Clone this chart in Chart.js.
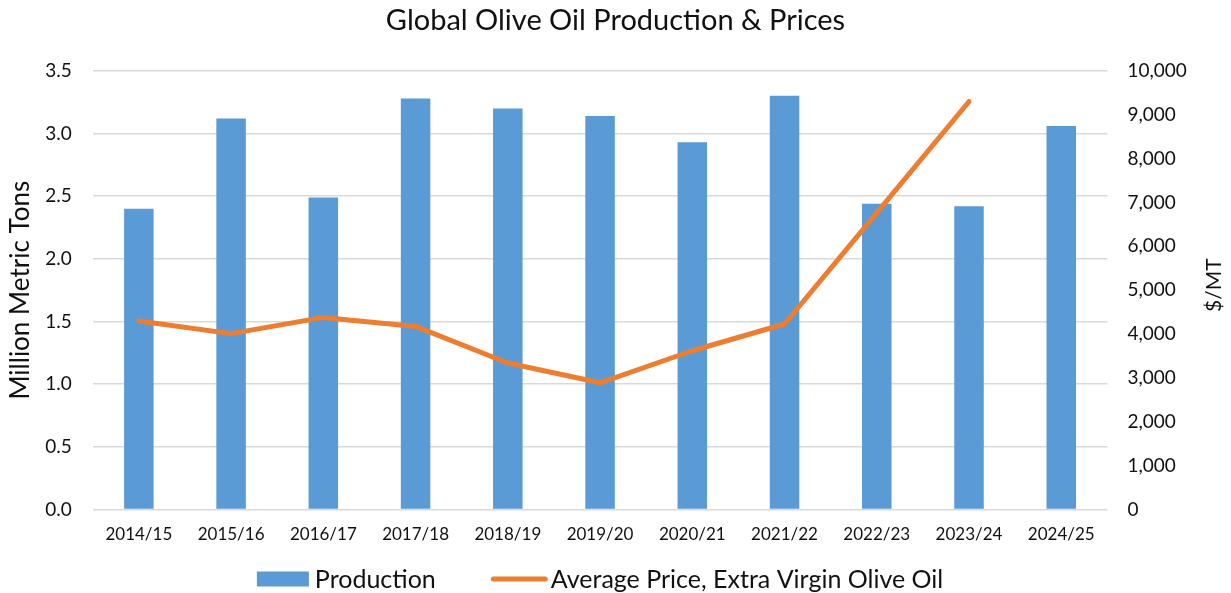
<!DOCTYPE html>
<html>
<head>
<meta charset="utf-8">
<script src="https://cdn.jsdelivr.net/npm/chart.js@4/dist/chart.umd.min.js"></script>
<style>
  html, body { margin: 0; padding: 0; background: #fff; }
  #wrap { width: 1231px; height: 593px; }
</style>
</head>
<body>
<div id="wrap"><canvas id="chart-area"></canvas></div>
<script>
var seasons = ["2014/15", "2015/16", "2016/17", "2017/18", "2018/19", "2019/20",
  "2020/21", "2021/22", "2022/23", "2023/24", "2024/25"];
// million metric tons
var production = [2.40, 3.12, 2.49, 3.28, 3.20, 3.14, 2.93, 3.30, 2.44, 2.42, 3.06];
// $/MT, no price yet for 2024/25
var avgPrice = [4300, 4010, 4380, 4175, 3340, 2890, 3620, 4230, 6760, 9300, null];

var barColor = "#5B9BD5";
var lineColor = "#ED7D31";
var textColor = "#111";
var fontFam = "Lato, 'Open Sans', sans-serif";

// right axis title reads bottom-to-top like the left one
var rightTitle = {
  id: "rightTitle",
  afterDraw: function (chart) {
    var s = chart.scales.y1;
    var ctx = chart.ctx;
    ctx.save();
    ctx.translate(s.right - 15, (s.top + s.bottom) / 2 - 5);
    ctx.rotate(-Math.PI / 2);
    ctx.font = "21px " + fontFam;
    ctx.fillStyle = textColor;
    ctx.textAlign = "center";
    ctx.textBaseline = "middle";
    ctx.fillText("$/MT", 0, 0);
    ctx.restore();
  },
};

// excel style legend under the axis
var bottomLegend = {
  id: "bottomLegend",
  afterDraw: function (chart) {
    var ctx = chart.ctx;
    var area = chart.chartArea;
    var bars = chart.data.datasets[1];
    var line = chart.data.datasets[0];
    ctx.save();
    ctx.font = "25px " + fontFam;
    var w1 = ctx.measureText(bars.label).width;
    var w2 = ctx.measureText(line.label).width;
    var total = 52 + 6 + w1 + 55 + 57 + 3 + w2;
    var x = (area.left + area.right) / 2 - total / 2;
    var y = 579;
    ctx.fillStyle = bars.backgroundColor;
    ctx.fillRect(x, y - 7.5, 52, 15);
    x += 58;
    ctx.fillStyle = textColor;
    ctx.textBaseline = "middle";
    ctx.fillText(bars.label, x, y + 1);
    x += w1 + 55;
    ctx.strokeStyle = line.borderColor;
    ctx.lineWidth = 5;
    ctx.lineCap = "round";
    ctx.beginPath();
    ctx.moveTo(x + 2.5, y);
    ctx.lineTo(x + 54.5, y);
    ctx.stroke();
    x += 60;
    ctx.fillText(line.label, x, y + 1);
    ctx.restore();
  },
};

var config = {
  type: "bar",
  data: {
    labels: seasons,
    datasets: [
      {
        type: "line",
        label: "Average Price, Extra Virgin Olive Oil",
        data: avgPrice,
        borderColor: lineColor,
        backgroundColor: lineColor,
        borderWidth: 5,
        pointRadius: 0,
        pointHoverRadius: 0,
        tension: 0,
        borderCapStyle: "round",
        borderJoinStyle: "round",
        yAxisID: "y1",
        order: 1,
      },
      {
        label: "Production",
        data: production,
        backgroundColor: barColor,
        categoryPercentage: 1,
        barPercentage: 0.32,
        yAxisID: "y",
        order: 2,
      },
    ],
  },
  options: {
    responsive: true,
    maintainAspectRatio: false,
    animation: false,
    layout: { padding: { left: 2, right: 2, top: 0, bottom: 33 } },
    plugins: {
      title: {
        display: true,
        text: "Global Olive Oil Production & Prices",
        color: textColor,
        font: { family: fontFam, size: 29, weight: "normal" },
        padding: { top: 3, bottom: 33 },
      },
      legend: { display: false },
      tooltip: { enabled: false },
    },
    scales: {
      x: {
        grid: { display: false, drawTicks: false },
        border: { display: false },
        ticks: {
          color: textColor,
          font: { family: fontFam, size: 17 },
          maxRotation: 0,
          padding: 15,
        },
      },
      y: {
        position: "left",
        min: 0,
        max: 3.5,
        grid: { color: "#d9d9d9", lineWidth: 1.5, drawTicks: false },
        border: { display: false },
        ticks: {
          stepSize: 0.5,
          padding: 21,
          color: textColor,
          font: { family: fontFam, size: 19 },
          callback: function (v) { return v.toFixed(1); },
        },
        title: {
          display: true,
          text: "Million Metric Tons",
          color: textColor,
          font: { family: fontFam, size: 26 },
          padding: { top: 3, bottom: -12 },
        },
      },
      y1: {
        position: "right",
        min: 0,
        max: 10000,
        grid: { display: false, drawTicks: false },
        border: { display: false },
        ticks: {
          stepSize: 1000,
          padding: 20,
          color: textColor,
          font: { family: fontFam, size: 19 },
          callback: function (v) { return v.toLocaleString("en-US"); },
        },
        // space only, text drawn by rightTitle
        title: {
          display: true,
          text: "$/MT",
          color: "rgba(0,0,0,0)",
          font: { family: fontFam, size: 21 },
          padding: { top: 0, bottom: -3 },
        },
      },
    },
  },
  plugins: [rightTitle, bottomLegend],
};

var ctx = document.getElementById("chart-area").getContext("2d");
window.chart = new Chart(ctx, config);
</script>
</body>
</html>
